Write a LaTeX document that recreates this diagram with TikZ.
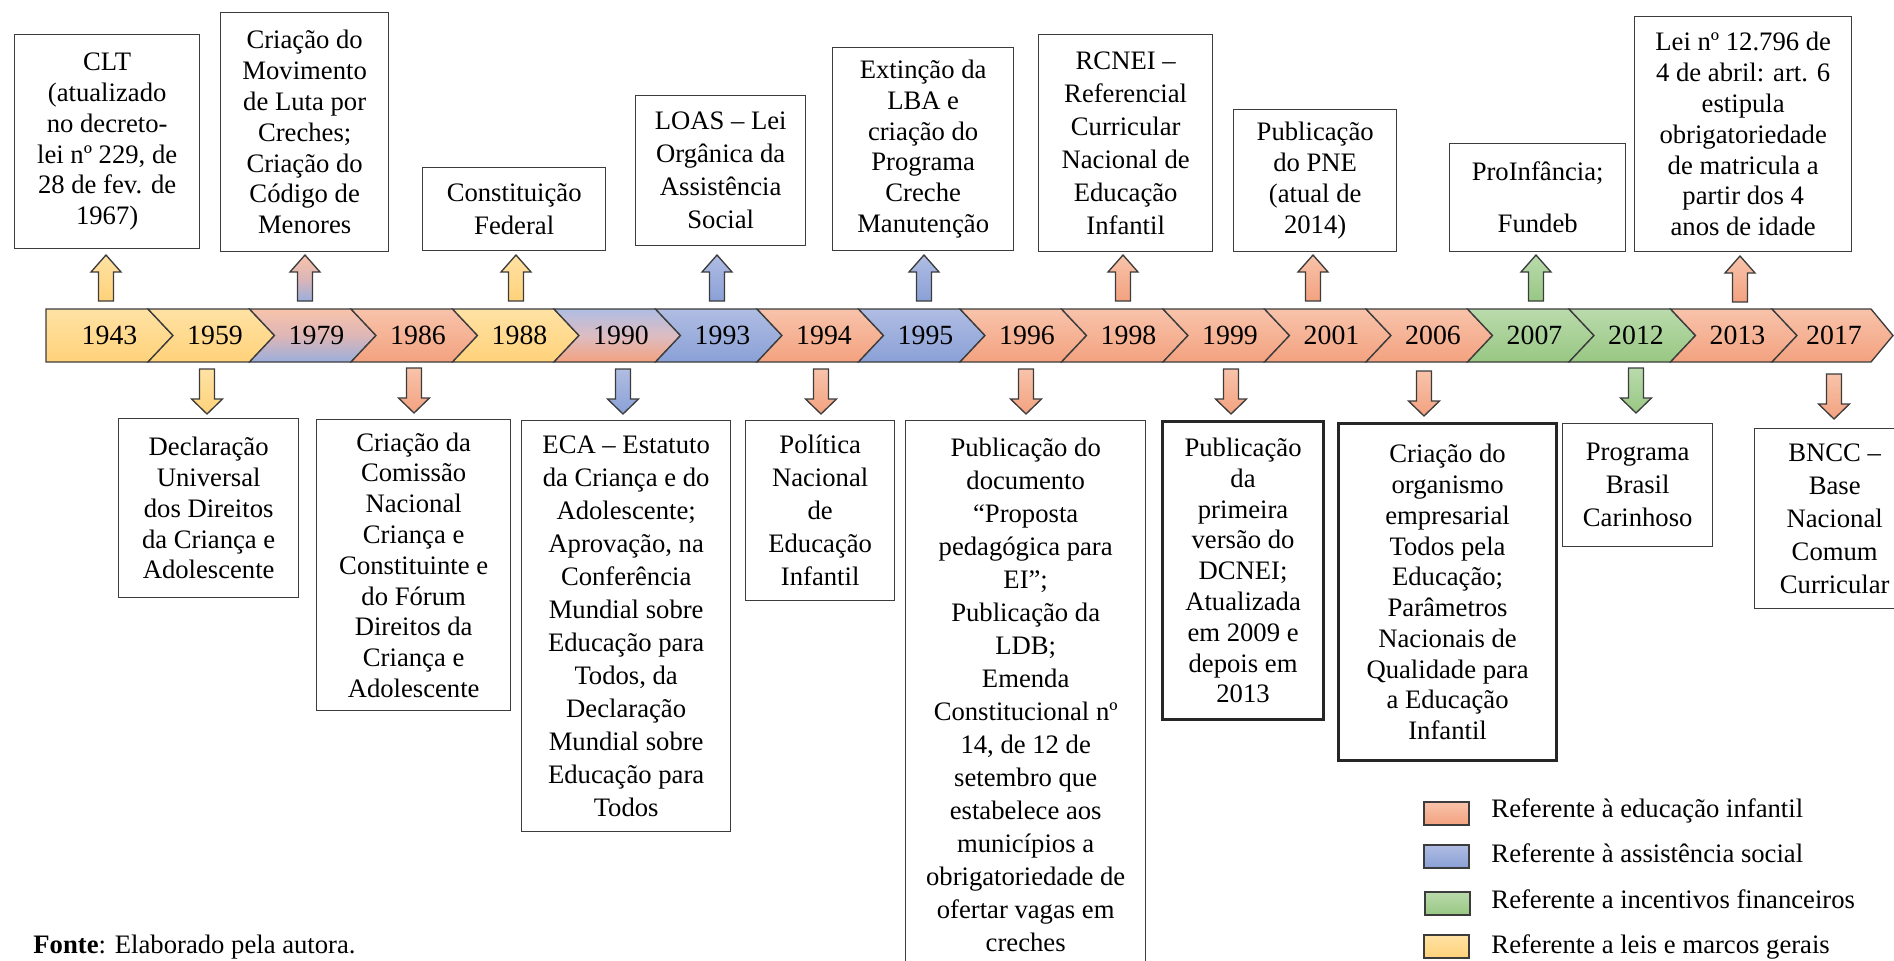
\documentclass[tikz,border=0pt]{standalone}
\usepackage{fontspec}
\setmainfont{Liberation Serif}
\definecolor{yelT}{HTML}{FFE2A4}
\definecolor{yelB}{HTML}{FFD27A}
\definecolor{oraT}{HTML}{F8C3AB}
\definecolor{oraB}{HTML}{F3A27F}
\definecolor{bluT}{HTML}{B0BDE3}
\definecolor{bluB}{HTML}{8AA0D6}
\definecolor{greT}{HTML}{BADBAC}
\definecolor{greB}{HTML}{98C783}
\definecolor{mixOB}{HTML}{DDB6B6}
\definecolor{mixBO}{HTML}{DDBCC2}
\definecolor{lineC}{HTML}{3C3C3C}
\newcommand\tbox[7]{%
  \node[box,#6,minimum width={(#4-#2)*0.45pt},minimum height={(#5-#3)*0.45pt}] (#1) at (#2,#3) {#7};}
\newcommand\uparr[3]{%
  \path[arr,#3] (#1-7.5,#2+46) -- (#1-7.5,#2+17) -- (#1-15,#2+17) -- (#1,#2) -- (#1+15,#2+17) -- (#1+7.5,#2+17) -- (#1+7.5,#2+46) -- cycle;}
\newcommand\dnarr[3]{%
  \path[arr,#3] (#1-7.5,#2) -- (#1+7.5,#2) -- (#1+7.5,#2+30) -- (#1+15.5,#2+30) -- (#1,#2+45) -- (#1-15.5,#2+30) -- (#1-7.5,#2+30) -- cycle;}
\begin{document}
\begin{tikzpicture}[x=0.45pt,y=-0.45pt,
  box/.style={draw=lineC,line width=0.6pt,fill=white,align=center,inner sep=0pt,anchor=north west,font=\fontsize{12}{13.85}\selectfont},
  spb/.style={font=\fontsize{12}{14.85}\selectfont},
  thickb/.style={line width=1.4pt,draw=black!85},
  seg/.style={draw=lineC,line width=0.6pt,line join=miter},
  arr/.style={draw=lineC,line width=0.6pt,line join=miter},
  yr/.style={font=\fontsize{12.5}{14}\selectfont,inner sep=0pt},
  gy/.style={top color=yelT,bottom color=yelB},
  go/.style={top color=oraT,bottom color=oraB},
  gb/.style={top color=bluT,bottom color=bluB},
  gg/.style={top color=greT,bottom color=greB},
  gob/.style={top color=oraT,bottom color=bluB!85!white,middle color=mixOB},
  gbo/.style={top color=bluT,bottom color=oraB,middle color=mixBO},
  legsq/.style={draw=lineC,line width=0.7pt,minimum width={45*0.45pt},minimum height={23*0.45pt},inner sep=0pt,anchor=north west},
  legt/.style={font=\fontsize{12}{14}\selectfont,inner sep=0pt,anchor=base west}]
\useasboundingbox (0,0) rectangle (1894,961);
\clip (0,0) rectangle (1894,961);
% timeline bar
\path[seg,gy] (46,309) -- (148,309) -- (173,335.5) -- (148,362) -- (46,362) -- cycle;
\node[yr] (y1943) at (109.5,335.5) {1943};
\foreach \i/\g/\yy in {1/gy/1959,2/gob/1979,3/go/1986,4/gy/1988,5/gbo/1990,6/gb/1993,7/go/1994,8/gb/1995,9/go/1996,10/go/1998,11/go/1999,12/go/2001,13/go/2006,14/gg/2007,15/gg/2012,16/go/2013}{
  \pgfmathsetmacro\L{148+101.5*(\i-1)}
  \pgfmathsetmacro\R{148+101.5*\i}
  \path[seg,\g] (\L,309) -- (\R,309) -- (\R+25,335.5) -- (\R,362) -- (\L,362) -- (\L+25,335.5) -- cycle;
  \node[yr] (y\yy) at (113.5+101.5*\i,335.5) {\yy};
}
\path[seg,go] (1772,309) -- (1871,309) -- (1893,335.5) -- (1871,362) -- (1772,362) -- (1797,335.5) -- cycle;
\node[yr] (y2017) at (1834,335.5) {2017};
% up arrows
\uparr{106}{255}{gy}
\uparr{305}{255}{gob}
\uparr{516}{255}{gy}
\uparr{717}{255}{gb}
\uparr{924}{255}{gb}
\uparr{1123}{255}{go}
\uparr{1313}{255}{go}
\uparr{1536}{255}{gg}
\uparr{1740}{256}{go}
% down arrows
\dnarr{207}{369}{gy}
\dnarr{414}{368}{go}
\dnarr{623}{369}{gb}
\dnarr{821}{369}{go}
\dnarr{1026}{369}{go}
\dnarr{1231}{369}{go}
\dnarr{1424}{371}{go}
\dnarr{1636}{368}{gg}
\dnarr{1834}{374}{go}
% top boxes
\tbox{clt}{14}{34}{199}{248}{}{CLT\\(atualizado\\no decreto-\\lei nº 229, de\\28 de fev. de\\1967)}
\tbox{mov}{220}{12}{388}{251}{}{Criação do\\Movimento\\de Luta por\\Creches;\\Criação do\\Código de\\Menores}
\tbox{cf}{422}{167}{605}{250}{spb}{Constituição\\Federal}
\tbox{loas}{635}{95}{805}{245}{spb}{LOAS – Lei\\Orgânica da\\Assistência\\Social}
\tbox{lba}{832}{47}{1013}{250}{}{Extinção da\\LBA e\\criação do\\Programa\\Creche\\Manutenção}
\tbox{rcnei}{1038}{34}{1212}{251}{spb}{RCNEI –\\Referencial\\Curricular\\Nacional de\\Educação\\Infantil}
\tbox{pne}{1233}{109}{1396}{251}{}{Publicação\\do PNE\\(atual de\\2014)}
\tbox{proinf}{1449}{143}{1625}{251}{}{ProInfância;\\[9.5pt]Fundeb}
\tbox{lei}{1634}{16}{1851}{251}{}{Lei nº 12.796 de\\4 de abril: art. 6\\estipula\\obrigatoriedade\\de matricula a\\partir dos 4\\anos de idade}
% bottom boxes
\tbox{decl}{118}{418}{298}{597}{}{Declaração\\Universal\\dos Direitos\\da Criança e\\Adolescente}
\tbox{com}{316}{419}{510}{710}{}{Criação da\\Comissão\\Nacional\\Criança e\\Constituinte e\\do Fórum\\Direitos da\\Criança e\\Adolescente}
\tbox{eca}{521}{420}{730}{831}{spb}{ECA – Estatuto\\da Criança e do\\Adolescente;\\Aprovação, na\\Conferência\\Mundial sobre\\Educação para\\Todos, da\\Declaração\\Mundial sobre\\Educação para\\Todos}
\tbox{pol}{745}{420}{894}{600}{spb}{Política\\Nacional\\de\\Educação\\Infantil}
\tbox{pub}{905}{420}{1145}{969}{spb}{Publicação do\\documento\\“Proposta\\pedagógica para\\EI”;\\Publicação da\\LDB;\\Emenda\\Constitucional nº\\14, de 12 de\\setembro que\\estabelece aos\\municípios a\\obrigatoriedade de\\ofertar vagas em\\creches}
\tbox{dcn}{1161}{420}{1322}{718}{thickb}{Publicação\\da\\primeira\\versão do\\DCNEI;\\Atualizada\\em 2009 e\\depois em\\2013}
\tbox{org}{1337}{422}{1555}{759}{thickb}{Criação do\\organismo\\empresarial\\Todos pela\\Educação;\\Parâmetros\\Nacionais de\\Qualidade para\\a Educação\\Infantil}
\tbox{prog}{1562}{423}{1712}{546}{spb}{Programa\\Brasil\\Carinhoso}
\tbox{bncc}{1754}{428}{1914}{608}{spb}{BNCC –\\Base\\Nacional\\Comum\\Curricular}
% legend
\node[legsq,go] (lg1) at (1423,801) {};
\node[legsq,gb] (lg2) at (1423,844) {};
\node[legsq,gg] (lg3) at (1424,891) {};
\node[legsq,gy] (lg4) at (1423,934) {};
\node[legt] (lt1) at (1491,817) {Referente à educação infantil};
\node[legt] (lt2) at (1491,862) {Referente à assistência social};
\node[legt] (lt3) at (1491,908) {Referente a incentivos financeiros};
\node[legt] (lt4) at (1491,953) {Referente a leis e marcos gerais};
% source
\node[legt] (fonte) at (33,953) {\textbf{Fonte}: Elaborado pela autora.};
\end{tikzpicture}
\end{document}
